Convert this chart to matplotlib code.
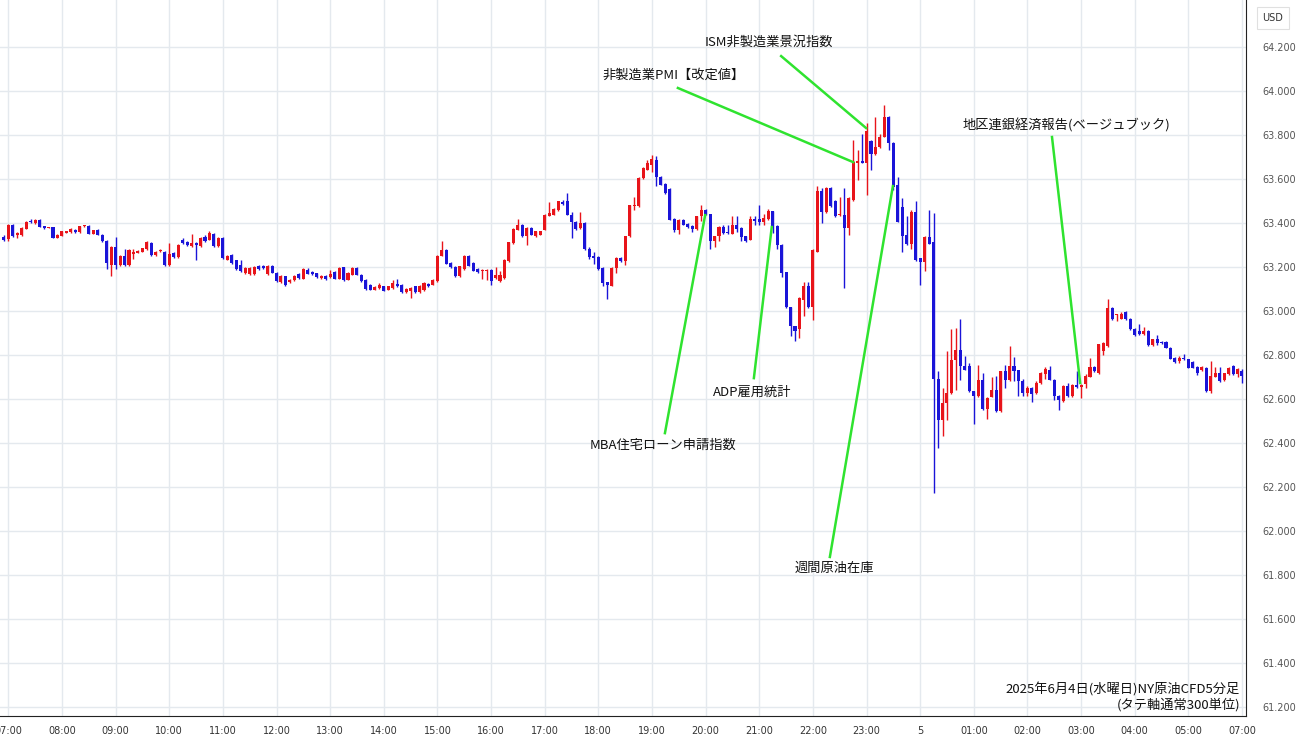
import matplotlib
matplotlib.use("Agg")
import matplotlib.pyplot as plt
import numpy as np

# 5-minute candles, first one at 06:55 (index -1), last at 07:00 next day
opens = [
    63.336,
    63.327, 63.392, 63.347, 63.347, 63.375, 63.410, 63.400, 63.415, 63.385, 63.378, 63.380, 63.332,
    63.342, 63.355, 63.358, 63.370, 63.359, 63.385, 63.388, 63.352, 63.370, 63.347, 63.320, 63.210,
    63.290, 63.210, 63.250, 63.210, 63.260, 63.265, 63.270, 63.280, 63.310, 63.256, 63.274, 63.270,
    63.210, 63.266, 63.245, 63.325, 63.315, 63.295, 63.310, 63.295, 63.336, 63.325, 63.350, 63.295,
    63.332, 63.234, 63.254, 63.230, 63.210, 63.172, 63.170, 63.170, 63.205, 63.205, 63.170, 63.205,
    63.175, 63.130, 63.158, 63.130, 63.140, 63.168, 63.147, 63.185, 63.178, 63.172, 63.150, 63.160,
    63.153, 63.176, 63.147, 63.198, 63.142, 63.165, 63.195, 63.165, 63.142, 63.120, 63.097, 63.105,
    63.112, 63.097, 63.105, 63.124, 63.120, 63.086, 63.089, 63.112, 63.086, 63.094, 63.124, 63.120,
    63.135, 63.252, 63.279, 63.218, 63.200, 63.158, 63.191, 63.252, 63.218, 63.191, 63.180, 63.180,
    63.188, 63.150, 63.135, 63.150, 63.226, 63.309, 63.370, 63.392, 63.340, 63.377, 63.340, 63.347,
    63.370, 63.433, 63.438, 63.460, 63.494, 63.498, 63.438, 63.407, 63.377, 63.400, 63.282, 63.248,
    63.245, 63.195, 63.130, 63.115, 63.195, 63.242, 63.226, 63.340, 63.476, 63.476, 63.605, 63.643,
    63.665, 63.688, 63.610, 63.578, 63.555, 63.418, 63.370, 63.415, 63.397, 63.388, 63.373, 63.430,
    63.460, 63.440, 63.317, 63.340, 63.382, 63.358, 63.352, 63.392, 63.377, 63.340, 63.325, 63.418,
    63.418, 63.404, 63.418, 63.453, 63.385, 63.300, 63.176, 63.017, 62.930, 62.918, 63.052, 63.112,
    63.018, 63.270, 63.545, 63.450, 63.560, 63.500, 63.435, 63.438, 63.378, 63.505, 63.674, 63.683,
    63.674, 63.774, 63.714, 63.744, 63.792, 63.883, 63.765, 63.573, 63.474, 63.346, 63.305, 63.450,
    63.240, 63.223, 63.338, 63.312, 62.690, 62.503, 62.580, 62.627, 62.779, 62.824, 62.752, 62.748,
    62.635, 62.612, 62.685, 62.555, 62.610, 62.640, 62.544, 62.726, 62.685, 62.752, 62.730, 62.680,
    62.627, 62.650, 62.627, 62.673, 62.715, 62.730, 62.688, 62.615, 62.590, 62.658, 62.612, 62.665,
    62.655, 62.667, 62.702, 62.747, 62.717, 62.818, 62.840, 63.015, 62.983, 62.965, 62.995, 62.965,
    62.920, 62.910, 62.894, 62.909, 62.844, 62.874, 62.859, 62.859, 62.833, 62.788, 62.773, 62.788,
    62.780, 62.768, 62.745, 62.732, 62.742, 62.636, 62.702, 62.720, 62.686, 62.712, 62.750, 62.712,
    62.727,
]
highs = [
    63.347,
    63.395, 63.396, 63.358, 63.380, 63.410, 63.418, 63.420, 63.420, 63.388, 63.382, 63.383, 63.350,
    63.365, 63.365, 63.376, 63.373, 63.388, 63.393, 63.392, 63.370, 63.373, 63.350, 63.323, 63.295,
    63.335, 63.255, 63.280, 63.282, 63.282, 63.278, 63.288, 63.318, 63.314, 63.273, 63.284, 63.274,
    63.310, 63.270, 63.304, 63.330, 63.318, 63.352, 63.314, 63.336, 63.345, 63.362, 63.354, 63.336,
    63.336, 63.256, 63.258, 63.234, 63.230, 63.198, 63.198, 63.204, 63.208, 63.208, 63.208, 63.208,
    63.178, 63.162, 63.161, 63.146, 63.162, 63.171, 63.194, 63.195, 63.181, 63.175, 63.162, 63.163,
    63.188, 63.180, 63.200, 63.202, 63.177, 63.199, 63.199, 63.168, 63.145, 63.123, 63.112, 63.127,
    63.115, 63.115, 63.142, 63.147, 63.123, 63.103, 63.108, 63.115, 63.118, 63.130, 63.127, 63.145,
    63.256, 63.320, 63.283, 63.221, 63.203, 63.206, 63.256, 63.255, 63.221, 63.194, 63.192, 63.192,
    63.191, 63.200, 63.180, 63.236, 63.315, 63.376, 63.418, 63.395, 63.380, 63.380, 63.365, 63.365,
    63.441, 63.494, 63.467, 63.501, 63.503, 63.536, 63.450, 63.410, 63.448, 63.403, 63.290, 63.270,
    63.248, 63.198, 63.133, 63.198, 63.244, 63.245, 63.343, 63.483, 63.520, 63.608, 63.653, 63.688,
    63.710, 63.703, 63.613, 63.581, 63.558, 63.421, 63.418, 63.418, 63.400, 63.391, 63.433, 63.480,
    63.463, 63.443, 63.343, 63.388, 63.390, 63.390, 63.430, 63.430, 63.380, 63.343, 63.430, 63.430,
    63.483, 63.440, 63.465, 63.456, 63.390, 63.303, 63.179, 63.020, 62.933, 63.063, 63.130, 63.130,
    63.282, 63.570, 63.560, 63.563, 63.563, 63.503, 63.520, 63.560, 63.517, 63.777, 63.730, 63.805,
    63.853, 63.777, 63.883, 63.807, 63.936, 63.886, 63.768, 63.610, 63.512, 63.430, 63.458, 63.500,
    63.243, 63.341, 63.458, 63.445, 62.726, 62.650, 62.820, 62.918, 62.923, 62.964, 62.794, 62.766,
    62.638, 62.756, 62.718, 62.608, 62.700, 62.703, 62.729, 62.756, 62.842, 62.790, 62.733, 62.690,
    62.660, 62.653, 62.680, 62.721, 62.745, 62.752, 62.691, 62.618, 62.665, 62.673, 62.668, 62.726,
    62.668, 62.712, 62.786, 62.752, 62.851, 62.860, 63.053, 63.020, 62.988, 62.995, 62.998, 62.968,
    62.925, 62.940, 62.929, 62.912, 62.874, 62.890, 62.862, 62.862, 62.836, 62.791, 62.795, 62.803,
    62.783, 62.771, 62.748, 62.750, 62.745, 62.773, 62.747, 62.747, 62.720, 62.747, 62.753, 62.740,
    62.735,
]
lows = [
    63.317,
    63.320, 63.336, 63.332, 63.343, 63.372, 63.398, 63.397, 63.380, 63.374, 63.376, 63.330, 63.330,
    63.340, 63.353, 63.356, 63.355, 63.356, 63.383, 63.350, 63.350, 63.345, 63.314, 63.190, 63.158,
    63.190, 63.205, 63.207, 63.207, 63.235, 63.262, 63.268, 63.277, 63.250, 63.252, 63.270, 63.205,
    63.206, 63.241, 63.242, 63.307, 63.296, 63.292, 63.233, 63.292, 63.316, 63.322, 63.292, 63.292,
    63.236, 63.230, 63.216, 63.186, 63.176, 63.168, 63.166, 63.166, 63.186, 63.192, 63.166, 63.172,
    63.132, 63.127, 63.115, 63.127, 63.137, 63.145, 63.144, 63.167, 63.164, 63.152, 63.147, 63.142,
    63.150, 63.144, 63.144, 63.138, 63.139, 63.162, 63.162, 63.132, 63.097, 63.094, 63.094, 63.102,
    63.089, 63.094, 63.102, 63.109, 63.083, 63.083, 63.059, 63.083, 63.083, 63.091, 63.109, 63.117,
    63.132, 63.249, 63.212, 63.197, 63.155, 63.155, 63.188, 63.203, 63.180, 63.173, 63.145, 63.142,
    63.120, 63.147, 63.132, 63.147, 63.223, 63.306, 63.367, 63.337, 63.302, 63.344, 63.337, 63.344,
    63.367, 63.430, 63.435, 63.457, 63.480, 63.435, 63.330, 63.368, 63.374, 63.277, 63.236, 63.214,
    63.187, 63.112, 63.055, 63.112, 63.175, 63.223, 63.210, 63.337, 63.460, 63.473, 63.602, 63.640,
    63.630, 63.570, 63.571, 63.533, 63.412, 63.358, 63.350, 63.389, 63.379, 63.360, 63.370, 63.410,
    63.435, 63.280, 63.290, 63.320, 63.352, 63.352, 63.349, 63.360, 63.317, 63.312, 63.322, 63.390,
    63.390, 63.390, 63.415, 63.355, 63.282, 63.155, 63.014, 62.888, 62.862, 62.876, 62.976, 63.015,
    62.960, 63.267, 63.400, 63.447, 63.473, 63.427, 63.432, 63.105, 63.346, 63.502, 63.595, 63.671,
    63.527, 63.640, 63.711, 63.741, 63.789, 63.732, 63.550, 63.403, 63.270, 63.302, 63.280, 63.229,
    63.120, 63.180, 63.304, 62.173, 62.377, 62.430, 62.506, 62.624, 62.640, 62.688, 62.730, 62.632,
    62.488, 62.609, 62.552, 62.510, 62.607, 62.541, 62.541, 62.650, 62.682, 62.680, 62.615, 62.612,
    62.612, 62.585, 62.624, 62.670, 62.690, 62.685, 62.597, 62.552, 62.587, 62.609, 62.609, 62.652,
    62.605, 62.652, 62.699, 62.724, 62.714, 62.800, 62.837, 62.959, 62.955, 62.962, 62.959, 62.914,
    62.886, 62.891, 62.891, 62.841, 62.841, 62.844, 62.850, 62.830, 62.780, 62.762, 62.765, 62.777,
    62.739, 62.739, 62.708, 62.729, 62.633, 62.626, 62.699, 62.679, 62.683, 62.709, 62.709, 62.702,
    62.674,
]
closes = [
    63.324,
    63.392, 63.340, 63.355, 63.377, 63.407, 63.405, 63.412, 63.383, 63.377, 63.380, 63.332, 63.347,
    63.362, 63.362, 63.373, 63.358, 63.385, 63.390, 63.352, 63.367, 63.347, 63.317, 63.218, 63.290,
    63.210, 63.250, 63.210, 63.278, 63.270, 63.275, 63.285, 63.312, 63.256, 63.270, 63.276, 63.210,
    63.260, 63.245, 63.300, 63.310, 63.300, 63.310, 63.300, 63.332, 63.320, 63.355, 63.295, 63.332,
    63.240, 63.250, 63.220, 63.190, 63.180, 63.195, 63.195, 63.200, 63.190, 63.196, 63.205, 63.175,
    63.135, 63.158, 63.120, 63.142, 63.158, 63.148, 63.190, 63.170, 63.167, 63.155, 63.158, 63.145,
    63.168, 63.147, 63.195, 63.142, 63.173, 63.195, 63.165, 63.135, 63.100, 63.097, 63.109, 63.120,
    63.092, 63.112, 63.127, 63.112, 63.086, 63.100, 63.105, 63.086, 63.115, 63.127, 63.112, 63.142,
    63.252, 63.279, 63.215, 63.200, 63.158, 63.203, 63.252, 63.206, 63.183, 63.176, 63.188, 63.188,
    63.135, 63.165, 63.165, 63.233, 63.312, 63.373, 63.392, 63.340, 63.377, 63.347, 63.362, 63.362,
    63.438, 63.445, 63.464, 63.498, 63.488, 63.438, 63.403, 63.373, 63.400, 63.280, 63.245, 63.240,
    63.190, 63.127, 63.120, 63.195, 63.240, 63.226, 63.340, 63.480, 63.483, 63.605, 63.650, 63.673,
    63.690, 63.610, 63.574, 63.536, 63.415, 63.367, 63.415, 63.392, 63.382, 63.373, 63.430, 63.460,
    63.438, 63.317, 63.340, 63.382, 63.355, 63.355, 63.392, 63.373, 63.336, 63.320, 63.418, 63.408,
    63.404, 63.423, 63.453, 63.382, 63.300, 63.173, 63.017, 62.930, 62.908, 63.060, 63.112, 63.018,
    63.279, 63.544, 63.450, 63.560, 63.476, 63.430, 63.440, 63.378, 63.514, 63.679, 63.683, 63.674,
    63.820, 63.714, 63.744, 63.792, 63.883, 63.762, 63.565, 63.406, 63.342, 63.305, 63.450, 63.232,
    63.223, 63.338, 63.307, 62.691, 62.503, 62.580, 62.627, 62.779, 62.824, 62.748, 62.733, 62.635,
    62.612, 62.685, 62.555, 62.605, 62.640, 62.544, 62.726, 62.685, 62.752, 62.726, 62.680, 62.627,
    62.650, 62.624, 62.673, 62.718, 62.736, 62.688, 62.612, 62.594, 62.657, 62.612, 62.665, 62.655,
    62.665, 62.705, 62.747, 62.727, 62.848, 62.856, 63.015, 62.962, 62.985, 62.988, 62.962, 62.917,
    62.890, 62.894, 62.909, 62.844, 62.871, 62.856, 62.853, 62.833, 62.783, 62.768, 62.788, 62.780,
    62.742, 62.742, 62.717, 62.747, 62.636, 62.705, 62.720, 62.682, 62.717, 62.742, 62.712, 62.735,
    62.705,
]

hour_labels = ["07:00", "08:00", "09:00", "10:00", "11:00", "12:00", "13:00", "14:00",
               "15:00", "16:00", "17:00", "18:00", "19:00", "20:00", "21:00", "22:00",
               "23:00", "5", "01:00", "02:00", "03:00", "04:00", "05:00", "07:00"]
price_ticks = [61.2, 61.4, 61.6, 61.8, 62.0, 62.2, 62.4, 62.6, 62.8,
               63.0, 63.2, 63.4, 63.6, 63.8, 64.0, 64.2]

events = ["ISM非製造業景況指数", "非製造業PMI【改定値】", "地区連銀経済報告(ベージュブック)",
          "MBA住宅ローン申請指数", "ADP雇用統計", "週間原油在庫"]

jp_font = ["Noto Sans CJK JP", "DejaVu Sans"]
up_color = "#e8141a"
down_color = "#1a14d8"
green = "#2fe32f"

fig = plt.figure(figsize=(13, 7.45), dpi=100)
ax = fig.add_axes([0, 29 / 745, 1246 / 1300, 1 - 29 / 745])

x = np.arange(len(opens)) - 1
o = np.array(opens)
h = np.array(highs)
l = np.array(lows)
c = np.array(closes)
colors = np.where(c >= o, up_color, down_color)

ax.vlines(x, l, h, colors=colors, linewidth=1.0, zorder=3)
body_bottom = np.minimum(o, c)
body_height = np.maximum(np.abs(c - o), 0.004)
ax.bar(x, body_height, bottom=body_bottom, width=0.68, color=colors, linewidth=0, zorder=4)

ax.set_xlim(-1.86, 276.9)
ax.set_ylim(61.159, 64.414)

ax.set_xticks([12 * i for i in range(len(hour_labels))])
ax.set_xticklabels(hour_labels)
ax.set_yticks(price_ticks)
ax.set_yticklabels([f"{p:.3f}" for p in price_ticks])
ax.yaxis.tick_right()
ax.grid(True, color="#e4e9ee", linewidth=1.0, zorder=0)
ax.tick_params(axis="y", length=0, pad=12, labelsize=7, labelcolor="#555555")
ax.tick_params(axis="x", length=0, pad=7, labelsize=7, labelcolor="#333333")
for lab in ax.get_xticklabels() + ax.get_yticklabels():
    lab.set_family(["Liberation Sans Narrow", "DejaVu Sans"])
ax.spines["left"].set_visible(False)
ax.spines["top"].set_visible(False)
ax.spines["right"].set_color("#222222")
ax.spines["bottom"].set_color("#222222")

# event lines: (line start, line end on candle), text position
layout = [
    ((172.9, 64.159), (191.9, 63.832), (170.1, 64.223)),
    ((149.8, 64.014), (189.0, 63.677), (148.9, 64.073)),
    ((233.5, 63.791), (239.8, 62.673), (236.8, 63.845)),
    ((146.9, 62.445), (155.9, 63.436), (146.4, 62.390)),
    ((166.8, 62.695), (170.8, 63.382), (166.4, 62.632)),
    ((183.8, 61.882), (197.9, 63.568), (184.7, 61.832)),
]
for label, (start, end, pos) in zip(events, layout):
    ax.plot([start[0], end[0]], [start[1], end[1]], color=green, linewidth=1.8, zorder=5)
    ax.text(pos[0], pos[1], label, ha="center", va="center", fontsize=9.5,
            family=jp_font, color="#111111", zorder=6)

fig.text(1240 / 1300, 1 - 690 / 745, "2025年6月4日(水曜日)NY原油CFD5分足",
         ha="right", va="center", fontsize=9.5, family=jp_font, color="#111111")
fig.text(1240 / 1300, 1 - 705 / 745, "(タテ軸通常300単位)",
         ha="right", va="center", fontsize=9.5, family=jp_font, color="#111111")

fig.text(1273 / 1300, 1 - 18 / 745, "USD", ha="center", va="center", fontsize=7,
         color="#333333",
         bbox=dict(boxstyle="square,pad=0.6", fc="white", ec="#e0e0e0", lw=0.8))

fig.savefig("out.png", dpi=100)
